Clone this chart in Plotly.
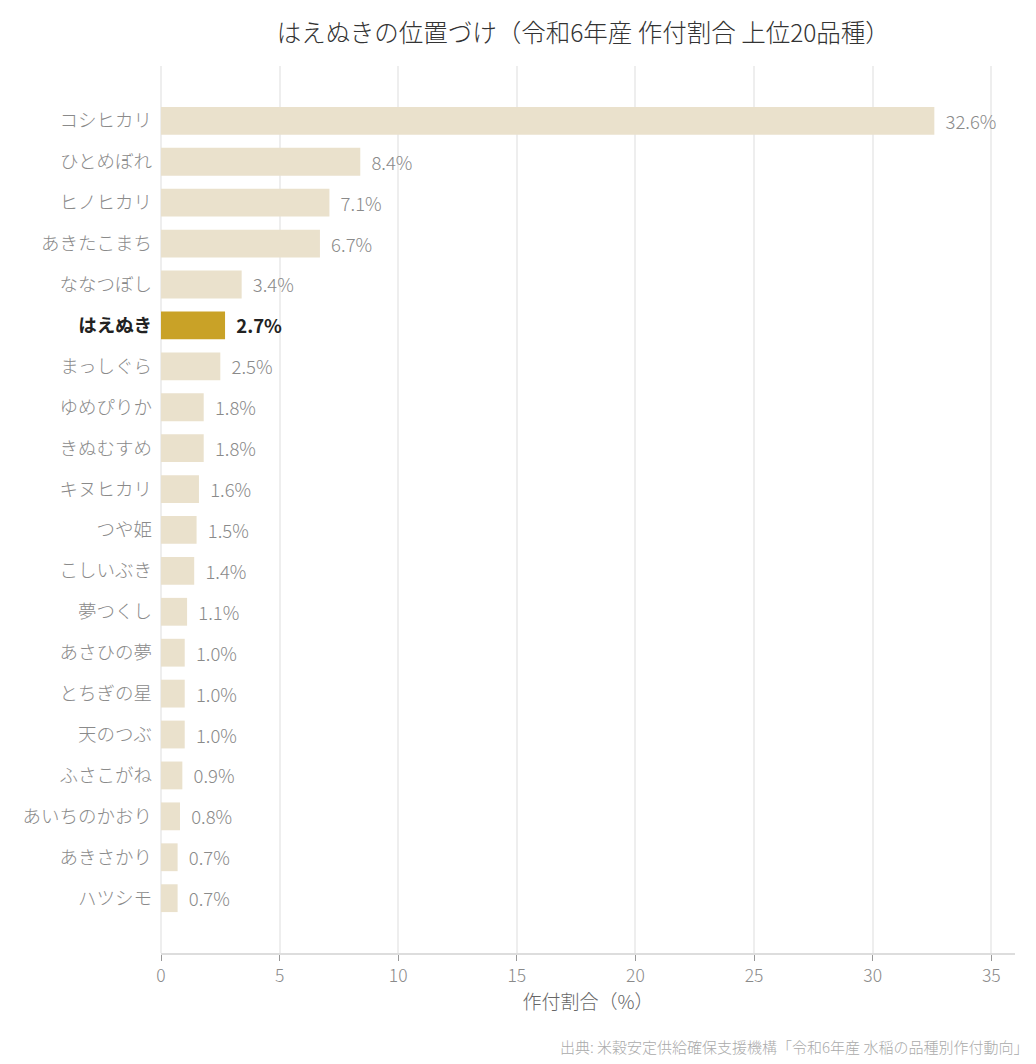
import plotly.graph_objects as go

# 令和6年産 作付割合 上位20品種
varieties = [
    "コシヒカリ", "ひとめぼれ", "ヒノヒカリ", "あきたこまち", "ななつぼし",
    "はえぬき", "まっしぐら", "ゆめぴりか", "きぬむすめ", "キヌヒカリ",
    "つや姫", "こしいぶき", "夢つくし", "あさひの夢", "とちぎの星",
    "天のつぶ", "ふさこがね", "あいちのかおり", "あきさかり", "ハツシモ",
]
shares = [32.6, 8.4, 7.1, 6.7, 3.4, 2.7, 2.5, 1.8, 1.8, 1.6,
          1.5, 1.4, 1.1, 1.0, 1.0, 1.0, 0.9, 0.8, 0.7, 0.7]
highlight = "はえぬき"

FONT = "Noto Sans CJK JP"
BASE = "#EAE1CC"
GOLD = "#C9A227"
GRAY = "#8a8a8a"
DARK = "#222222"

colors = [GOLD if v == highlight else BASE for v in varieties]
text_colors = [DARK if v == highlight else GRAY for v in varieties]
pad = "\u00a0\u00a0"
labels = [f"{pad}<b>{s:.1f}%</b>" if v == highlight else f"{pad}{s:.1f}%"
          for v, s in zip(varieties, shares)]
tick_text = [f"<span style='color:{DARK}'><b>{v}</b></span>" if v == highlight else v
             for v in varieties]

fig = go.Figure(
    go.Bar(
        x=shares,
        y=varieties,
        orientation="h",
        marker=dict(color=colors, line=dict(width=0)),
        width=0.68,
        text=labels,
        textposition="outside",
        textfont=dict(color=text_colors, size=18.5, family=FONT, weight=300),
        cliponaxis=False,
        hovertemplate="%{y}: %{x:.1f}%<extra></extra>",
    )
)

fig.update_layout(
    width=1020,
    height=1048,
    paper_bgcolor="white",
    plot_bgcolor="white",
    font=dict(family=FONT, color=GRAY, size=18, weight=300),
    title=dict(
        text="はえぬきの位置づけ（令和6年産 作付割合 上位20品種）",
        font=dict(size=24.5, color="#333333", family=FONT, weight=300),
        x=0.564,
        xanchor="center",
        y=0.976,
        yanchor="middle",
    ),
    margin=dict(l=153, r=13, t=58, b=103),
    showlegend=False,
    xaxis=dict(
        range=[0, 36],
        dtick=5,
        showgrid=True,
        gridcolor="#eeeeee",
        gridwidth=1.5,
        zeroline=True,
        zerolinecolor="#eeeeee",
        showline=True,
        linecolor="#dddddd",
        linewidth=2,
        ticks="outside",
        tickcolor="#999999",
        ticklen=6,
        tickfont=dict(size=17.5, color=GRAY),
        title=dict(text="作付割合（%）", font=dict(size=19, color="#666666"), standoff=10),
    ),
    yaxis=dict(
        categoryorder="array",
        categoryarray=varieties,
        tickmode="array",
        tickvals=varieties,
        ticktext=tick_text,
        range=[len(varieties) - 1 + 1.34, -1.34],
        showgrid=False,
        ticks="",
        ticklabelstandoff=8,
        tickfont=dict(size=18.5, color=GRAY),
    ),
    annotations=[
        dict(
            text="出典: 米穀安定供給確保支援機構「令和6年産 水稲の品種別作付動向」",
            xref="paper", yref="paper",
            x=1.017, y=-0.105,
            xanchor="right", yanchor="middle",
            showarrow=False,
            font=dict(size=15, color="#aaaaaa", family=FONT, weight=300),
        )
    ],
)

fig.write_html("out.html")
